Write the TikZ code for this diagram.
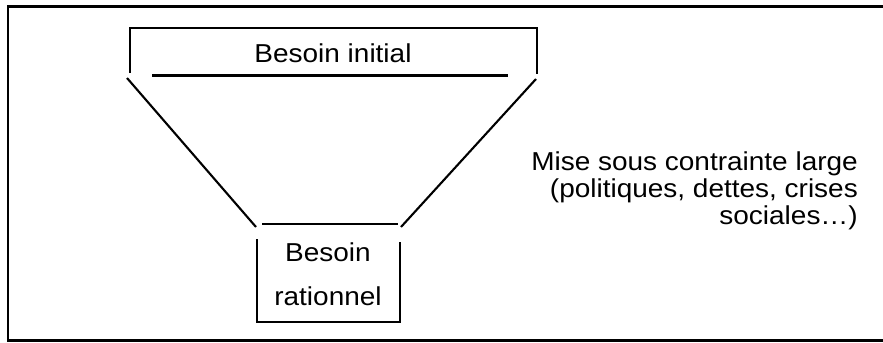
\documentclass[tikz,border=0pt]{standalone}
\usepackage{fontspec}
\setmainfont{Liberation Sans}[FakeStretch=1.08]
\begin{document}
\begin{tikzpicture}[x=1bp,y=-1bp,
  ln/.style={line width=2.1bp, black},
  lbl/.style={font=\fontsize{26}{30}\selectfont, inner sep=0pt, anchor=base}]
\useasboundingbox (0,0) rectangle (883,342);
% outer frame (right side cut off)
\draw[ln] (886,6.5) -- (8,6.5) -- (8,340.5) -- (886,340.5);
% funnel coordinates
\coordinate (tl) at (130,28);
\coordinate (tr) at (537,28);
\coordinate (tlb) at (130,73);
\coordinate (trb) at (537,74);
\coordinate (il) at (152,75.5);
\coordinate (ir) at (508,75.5);
\coordinate (dl1) at (127,78);
\coordinate (dl2) at (256,227);
\coordinate (dr1) at (536,79);
\coordinate (dr2) at (401,227);
\coordinate (bt1) at (262,224);
\coordinate (bt2) at (398,224);
\coordinate (bl1) at (257,239);
\coordinate (bl2) at (257,322);
\coordinate (br2) at (400,322);
\coordinate (br1) at (400,242);
% top box
\draw[ln] (tlb) -- (tl) -- (tr) -- (trb);
\draw[ln] (il) -- (ir);
% diagonals
\draw[ln] (dl1) -- (dl2);
\draw[ln] (dr1) -- (dr2);
% bottom box
\draw[ln] (bt1) -- (bt2);
\draw[ln] (bl1) -- (bl2) -- (br2) -- (br1);
% texts
\node[lbl] (init) at (333,62) {Besoin initial};
\node[lbl] (rat1) at (328,261) {Besoin};
\node[lbl] (rat2) at (328,305) {rationnel};
\node[lbl, anchor=base east] (m1) at (858,170) {Mise sous contrainte large};
\node[lbl, anchor=base east] (m2) at (858,197) {(politiques, dettes, crises};
\node[lbl, anchor=base east] (m3) at (858,224) {sociales…)};
\end{tikzpicture}
\end{document}
